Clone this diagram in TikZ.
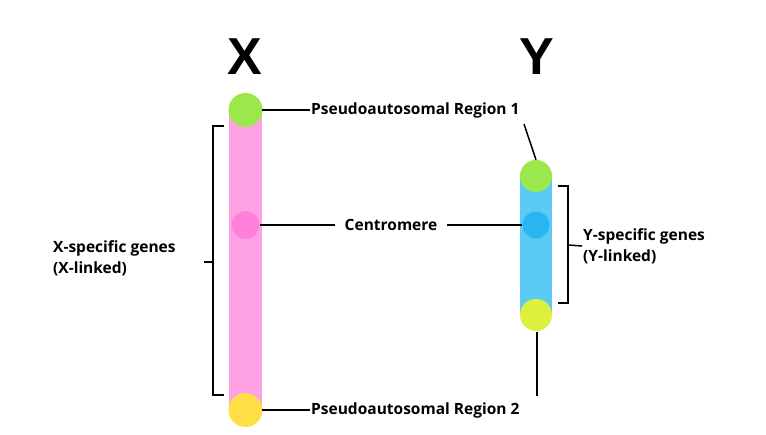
\documentclass[tikz,border=0pt]{standalone}
\usepackage{fontspec}
\setmainfont{Open Sans}
\newfontfamily\bigfont{Liberation Sans}
\begin{document}
\begin{tikzpicture}[x=1pt,y=-1pt,
  lbl/.style={font=\bfseries\fontsize{15.5}{21}\selectfont, inner sep=1pt},
  big/.style={font=\bigfont\bfseries\fontsize{52}{52}\selectfont, inner sep=0pt},
  ln/.style={line width=1.5pt, black},
  endcap/.style={circle, minimum size=34pt, inner sep=0pt}]
\useasboundingbox[fill=white] (0,0) rectangle (766,435);
\definecolor{pinkc}{HTML}{FFA2E4}
\definecolor{pinkd}{HTML}{FF80DA}
\definecolor{greenc}{HTML}{9BE84C}
\definecolor{yellowc}{HTML}{FFDF45}
\definecolor{limec}{HTML}{DDF03C}
\definecolor{bluec}{HTML}{5CCBF3}
\definecolor{blued}{HTML}{2AB6F0}
\node[big] (X) at (245,57) {X};
\node[big] (Y) at (537,57) {Y};
% X chromosome
\fill[pinkc] (229,110) rectangle (262,410);
\node[endcap, fill=greenc] (xg) at (245.5,110) {};
\node[endcap, fill=yellowc] (xy) at (245.5,410) {};
\node[endcap, fill=pinkd, minimum size=28pt] (xc) at (245.5,225) {};
% Y chromosome
\fill[bluec] (520,176) rectangle (552,315);
\node[endcap, fill=greenc, minimum size=32pt] (yg) at (536,176) {};
\node[endcap, fill=limec, minimum size=32pt] (yy) at (536,315) {};
\node[endcap, fill=blued, minimum size=27pt] (yc) at (536,225) {};
% labels
\node[lbl, anchor=west] (p1) at (310,110) {Pseudoautosomal Region 1};
\node[lbl, anchor=west] (p2) at (310,410) {Pseudoautosomal Region 2};
\node[lbl, inner xsep=10pt] (cm) at (391,225) {Centromere};
\node[lbl, align=left, anchor=west] (xs) at (52,258) {X-specific genes\\(X-linked)};
\node[lbl, align=left, anchor=west] (ys) at (582,246) {Y-specific genes\\(Y-linked)};
\coordinate (p1e) at (262,110);
\coordinate (p2e) at (262,410);
\draw[ln] (p1e) -- (p1.west);
\draw[ln] (p2e) -- (p2.west);
\draw[ln] (524,124) -- (yg.north);
\coordinate (yb) at (537,332);
\coordinate (yb2) at (537,396);
\draw[ln] (yb) -- (yb2);
\draw[ln] (xc.east) -- (cm.west);
\draw[ln] (cm.east) -- (yc.west);
% brackets
\draw[ln] (224,126) -- (213,126) -- (213,395) -- (224,395);
\coordinate (xm) at (213,262);
\draw[ln] (xm) -- (204,262);
\draw[ln] (558,186) -- (568,186) -- (568,303) -- (558,303);
\coordinate (ym) at (568,245);
\draw[ln] (ym) -- (ys.west);
\end{tikzpicture}
\end{document}
